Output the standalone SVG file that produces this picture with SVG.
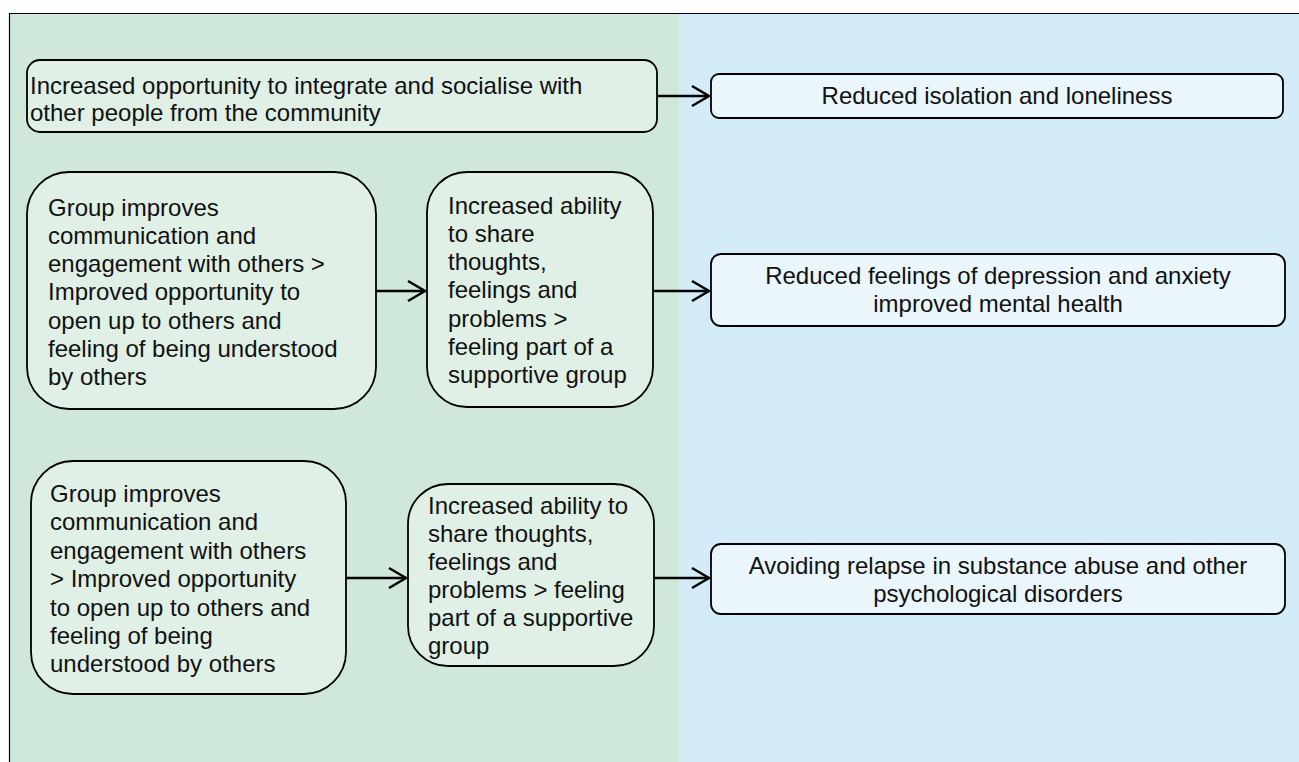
<svg xmlns="http://www.w3.org/2000/svg" width="1299" height="762" viewBox="0 0 1299 762">
<style>
.bgG{fill:#d0e8da}
.bgB{fill:#d4ebf8}
.nG rect{fill:#e0f0e6;stroke:#000;stroke-width:1.8}
.nB rect{fill:#eaf5fc;stroke:#000;stroke-width:1.8}
text{font-family:"Liberation Sans",Arial,sans-serif;font-size:24px;fill:#111}
.c{text-anchor:middle}
.conn line{stroke:#000;stroke-width:2.5}
.frame{stroke:#000;stroke-width:1.2;fill:none}
</style>
<defs>
<marker id="ah" markerWidth="22" markerHeight="24" refX="19" refY="12" orient="auto" markerUnits="userSpaceOnUse">
<path d="M2,2 L19,12 L2,22" fill="none" stroke="#000" stroke-width="2.5"/>
</marker>
</defs>
<rect x="0" y="0" width="1299" height="762" fill="#fff"/>
<rect class="bgG" x="10" y="14" width="669" height="748"/>
<rect class="bgB" x="679" y="14" width="620" height="748"/>
<path class="frame" d="M9.5,762 V13.5 H1299"/>

<g id="n1" class="nG">
<rect x="27" y="60" width="630" height="72" rx="13"/>
<text x="30" y="94">Increased opportunity to integrate and socialise with</text>
<text x="30" y="121">other people from the community</text>
</g>
<g id="n2" class="nB">
<rect x="711" y="74" width="572" height="44" rx="8"/>
<text class="c" x="997" y="104">Reduced isolation and loneliness</text>
</g>
<g id="n3" class="nG">
<rect x="27" y="172" width="349" height="237" rx="42"/>
<text x="48" y="215.5">Group improves</text>
<text x="48" y="243.8">communication and</text>
<text x="48" y="272.1">engagement with others &gt;</text>
<text x="48" y="300.4">Improved opportunity to</text>
<text x="48" y="328.7">open up to others and</text>
<text x="48" y="357">feeling of being understood</text>
<text x="48" y="385.3">by others</text>
</g>
<g id="n4" class="nG">
<rect x="427" y="172" width="226" height="235" rx="40"/>
<text x="448" y="213.5">Increased ability</text>
<text x="448" y="241.8">to share</text>
<text x="448" y="270.1">thoughts,</text>
<text x="448" y="298.4">feelings and</text>
<text x="448" y="326.7">problems &gt;</text>
<text x="448" y="355">feeling part of a</text>
<text x="448" y="383.3">supportive group</text>
</g>
<g id="n5" class="nB">
<rect x="711" y="254" width="574" height="72" rx="10"/>
<text class="c" x="998" y="284">Reduced feelings of depression and anxiety</text>
<text class="c" x="998" y="312">improved mental health</text>
</g>
<g id="n6" class="nG">
<rect x="31" y="461" width="315" height="233" rx="42"/>
<text x="50" y="502">Group improves</text>
<text x="50" y="530.4">communication and</text>
<text x="50" y="558.8">engagement with others</text>
<text x="50" y="587.2">&gt; Improved opportunity</text>
<text x="50" y="615.6">to open up to others and</text>
<text x="50" y="644">feeling of being</text>
<text x="50" y="672.4">understood by others</text>
</g>
<g id="n7" class="nG">
<rect x="408" y="484" width="246" height="182" rx="40"/>
<text x="428" y="514">Increased ability to</text>
<text x="428" y="542">share thoughts,</text>
<text x="428" y="570">feelings and</text>
<text x="428" y="598">problems &gt; feeling</text>
<text x="428" y="626">part of a supportive</text>
<text x="428" y="654">group</text>
</g>
<g id="n8" class="nB">
<rect x="711" y="544" width="574" height="70" rx="10"/>
<text class="c" x="998" y="574">Avoiding relapse in substance abuse and other</text>
<text class="c" x="998" y="602">psychological disorders</text>
</g>

<g id="connectors" class="conn">
<line x1="657" y1="96" x2="709" y2="96" marker-end="url(#ah)"/>
<line x1="376" y1="291" x2="425" y2="291" marker-end="url(#ah)"/>
<line x1="653" y1="291" x2="709" y2="291" marker-end="url(#ah)"/>
<line x1="346" y1="578" x2="406" y2="578" marker-end="url(#ah)"/>
<line x1="654" y1="578" x2="709" y2="578" marker-end="url(#ah)"/>
</g>
</svg>
